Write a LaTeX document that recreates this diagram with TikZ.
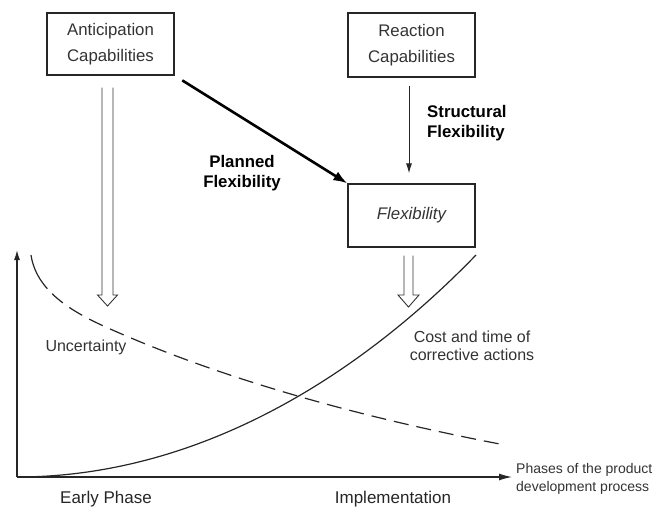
\documentclass[tikz,border=0pt]{standalone}
\usepackage{fontspec}
\setmainfont{Liberation Sans}
\usetikzlibrary{arrows.meta,calc}
\begin{document}
\begin{tikzpicture}[x=1pt,y=-1pt,
  ink/.style={draw=black!85,line width=1.2pt},
  capbox/.style={ink,minimum width=127pt,inner sep=0pt,align=center,text=black!80,font=\fontsize{16.8}{26}\selectfont},
  boldlbl/.style={inner sep=0pt,align=center,font=\bfseries\fontsize{16.8}{20}\selectfont},
  curvelbl/.style={inner sep=0pt,align=center,text=black!80,font=\fontsize{16}{18}\selectfont},
  phaselbl/.style={inner sep=0pt,text=black!85,font=\fontsize{17}{20}\selectfont},
  hollow/.style={draw=black!80,line width=0.9pt,fill=white,line join=miter},
]
\useasboundingbox (0,0) rectangle (653,508);

% boxes
\node[capbox,minimum height=62pt] (antic) at (110.5,44) {Anticipation\\Capabilities};
\node[capbox,minimum height=64pt] (react) at (411.5,45) {Reaction\\Capabilities};
\node[capbox,minimum height=63pt,font=\itshape\fontsize{16.8}{20}\selectfont] (flex) at (411.5,215.5) {Flexibility};

% connectors between boxes
\draw[black,line width=2.6pt,shorten <=9pt,-{Latex[length=14pt,width=10pt]}] (antic.south east) -- (flex.north west);
\draw[black!85,line width=1pt,shorten <=8pt,shorten >=10pt,-{Latex[length=10pt,width=6pt]}] ([xshift=-2.5pt]react.south) -- ([xshift=-2.5pt]flex.north);

\node[boldlbl,anchor=base] (plan) at (242,187) {Planned\\Flexibility};
\node[boldlbl,anchor=base west,align=left] (struct) at (427,138) {Structural\\Flexibility};

% hollow arrows
\coordinate (ha) at (107.5,306);
\coordinate (hf) at (408.5,307);
\draw[hollow] ($(antic.south)+(-8.5,12)$) -- (102,295) -- (97.5,295) -- (ha) -- (117.5,295) -- (113,295) -- ($(antic.south)+(2.5,12)$);
\draw[hollow] ($(flex.south)+(-7.5,8)$) -- (404,295) -- (398,295) -- (hf) -- (419,295) -- (413,295) -- ($(flex.south)+(1.5,8)$);

% axes
\coordinate (o) at (17,477);
\coordinate (ytop) at (17,250);
\coordinate (xend) at (512,477);
\draw[ink,-{Latex[length=10pt,width=6pt]}] (o) -- (ytop);
\draw[ink,-{Latex[length=13pt,width=7pt]}] (o) -- (xend);

% curves
\draw[black!85,line width=1.2pt] (o) .. controls (200,477) and (360,375) .. (476,255);
\draw[black!85,line width=1.2pt,dash pattern=on 38pt off 7pt on 14pt off 8pt on 15pt off 8pt on 15pt off 8pt on 15pt off 8pt on 15pt off 8pt on 15pt off 8pt on 15pt off 8pt on 15pt off 8pt on 15pt off 8pt on 15pt off 8pt on 15pt off 8pt on 15pt off 8pt on 15pt off 8pt on 15pt off 8pt on 15pt off 8pt on 15pt off 8pt on 15pt off 8pt on 15pt off 8pt on 15pt off 8pt on 15pt off 8pt on 15pt off 8pt on 15pt off 8pt on 15pt off 8pt]
  (31,255) .. controls (37,295) and (80,316) .. (117,332) .. controls (250,390) and (400,425) .. (505,445);

% labels
\node[curvelbl,anchor=base] (unc) at (86,351) {Uncertainty};
\node[curvelbl,anchor=base] (cost) at (472,360) {Cost and time of\\corrective actions};
\node[inner sep=0pt,anchor=base west,align=left,text=black!80,font=\fontsize{14}{18}\selectfont] (phases) at (516,491) {Phases of the product\\development process};
\node[phaselbl,anchor=base] (early) at (106,503) {Early Phase};
\node[phaselbl,anchor=base] (impl) at (393,503) {Implementation};
\end{tikzpicture}
\end{document}
